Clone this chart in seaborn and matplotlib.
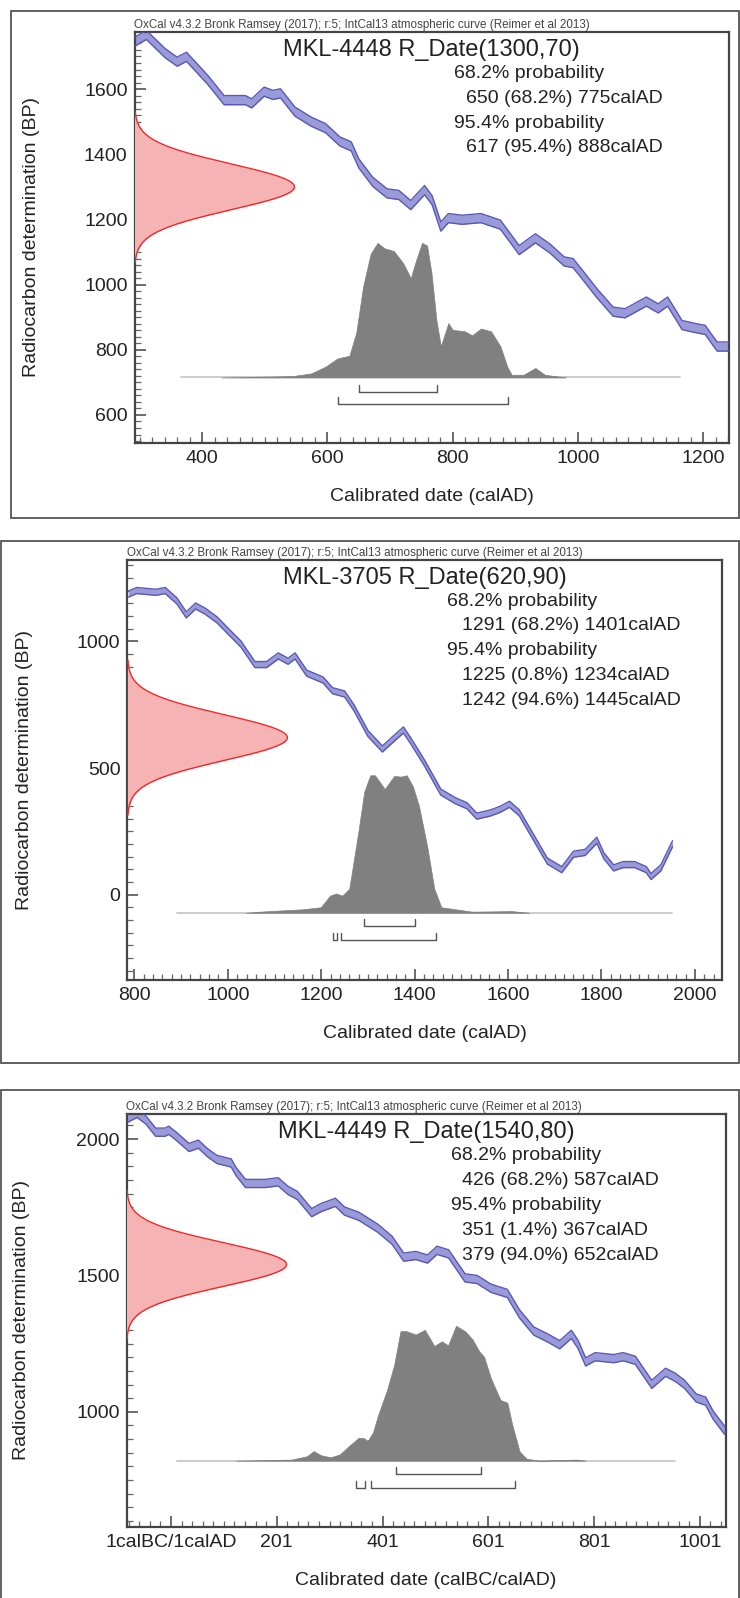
import numpy as np
import pandas as pd
import matplotlib
matplotlib.use("Agg")
import matplotlib.pyplot as plt
from matplotlib.patches import Rectangle
from matplotlib.ticker import MultipleLocator, FixedLocator
import seaborn as sns

# ---------------- data ----------------
header = "OxCal v4.3.2 Bronk Ramsey (2017); r:5; IntCal13 atmospheric curve (Reimer et al 2013)"

# Panel 1: MKL-4448
p1_title = "MKL-4448 R_Date(1300,70)"
p1_date = (1300, 70)
p1_lines = ["68.2% probability", "650 (68.2%) 775calAD", "95.4% probability", "617 (95.4%) 888calAD"]
p1_curve_x = [292, 311, 341, 360, 375, 409, 435, 469, 479, 499, 513, 525, 548, 574, 597, 620, 638, 650,
              672, 695, 714, 733, 755, 767, 781, 793, 815, 845, 876, 906, 932, 955, 978, 992, 1003, 1030,
              1056, 1075, 1109, 1128, 1143, 1166, 1189, 1203, 1222, 1241]
p1_curve_y = [1745, 1766, 1710, 1684, 1699, 1628, 1566, 1566, 1556, 1592, 1582, 1587, 1531, 1500, 1480, 1439,
              1424, 1372, 1316, 1280, 1275, 1244, 1290, 1259, 1178, 1204, 1199, 1204, 1184, 1106, 1142, 1111,
              1071, 1066, 1040, 974, 917, 912, 948, 927, 948, 876, 866, 861, 810, 810]
p1_post_x = [431, 544, 574, 597, 616, 635, 646, 657, 669, 680, 691, 706, 721, 733, 740, 751, 759, 766, 774,
             781, 793, 800, 819, 831, 845, 861, 876, 887, 894, 913, 932, 947, 981]
p1_post_h = [0, 0.01, 0.03, 0.08, 0.14, 0.16, 0.33, 0.67, 0.91, 0.99, 0.95, 0.93, 0.84, 0.73, 0.84, 0.99, 0.97,
             0.77, 0.42, 0.23, 0.40, 0.35, 0.34, 0.31, 0.36, 0.34, 0.23, 0.08, 0.02, 0.02, 0.07, 0.02, 0]
p1_range68 = [(650, 775)]
p1_range95 = [(617, 888)]
p1_xticks = [400, 600, 800, 1000, 1200]
p1_xticklabels = ["400", "600", "800", "1000", "1200"]
p1_yticks = [600, 800, 1000, 1200, 1400, 1600]
p1_xlabel = "Calibrated date (calAD)"

# Panel 2: MKL-3705
p2_title = "MKL-3705 R_Date(620,90)"
p2_date = (620, 90)
p2_lines = ["68.2% probability", "1291 (68.2%) 1401calAD", "95.4% probability",
            "1225 (0.8%) 1234calAD", "1242 (94.6%) 1445calAD"]
p2_curve_x = [787, 805, 846, 866, 891, 911, 931, 952, 977, 1002, 1028, 1058, 1083, 1108, 1129, 1144, 1169,
              1204, 1224, 1250, 1270, 1300, 1331, 1351, 1376, 1391, 1421, 1456, 1487, 1512, 1533, 1563, 1583,
              1603, 1624, 1654, 1684, 1715, 1740, 1765, 1790, 1805, 1826, 1846, 1871, 1896, 1906, 1927, 1952]
p2_curve_y = [1186, 1200, 1193, 1200, 1159, 1104, 1139, 1118, 1084, 1037, 989, 908, 908, 942, 921, 942, 874,
              847, 805, 792, 738, 636, 575, 609, 650, 609, 520, 405, 371, 351, 310, 323, 337, 357, 323, 228,
              133, 99, 160, 167, 215, 154, 106, 119, 119, 99, 72, 106, 201]
p2_post_x = [1038, 1078, 1159, 1199, 1219, 1232, 1245, 1260, 1280, 1292, 1305, 1315, 1336, 1356, 1371, 1383,
             1396, 1409, 1427, 1442, 1457, 1523, 1608, 1645]
p2_post_h = [0, 0.01, 0.025, 0.04, 0.125, 0.14, 0.125, 0.175, 0.6, 0.88, 1.0, 1.0, 0.9, 0.995, 0.99, 1.0,
             0.92, 0.78, 0.48, 0.175, 0.04, 0.008, 0.012, 0]
p2_range68 = [(1291, 1401)]
p2_range95 = [(1225, 1234), (1242, 1445)]
p2_xticks = [800, 1000, 1200, 1400, 1600, 1800, 2000]
p2_xticklabels = ["800", "1000", "1200", "1400", "1600", "1800", "2000"]
p2_yticks = [0, 500, 1000]
p2_xlabel = "Calibrated date (calAD)"

# Panel 3: MKL-4449
p3_title = "MKL-4449 R_Date(1540,80)"
p3_date = (1540, 80)
p3_lines = ["68.2% probability", "426 (68.2%) 587calAD", "95.4% probability",
            "351 (1.4%) 367calAD", "379 (94.0%) 652calAD"]
p3_curve_x = [-81, -63, -46, -28, -10, -3, 13, 35, 53, 70, 88, 115, 124, 142, 178, 204, 222, 240, 267, 285,
              312, 329, 356, 392, 419, 441, 464, 486, 504, 526, 557, 580, 606, 637, 660, 687, 713, 736, 758,
              771, 785, 803, 838, 856, 879, 910, 936, 954, 972, 994, 1012, 1026, 1048]
p3_curve_y = [2076, 2094, 2069, 2025, 2025, 2032, 2007, 1969, 1981, 1950, 1925, 1912, 1881, 1837, 1837, 1843,
              1812, 1793, 1730, 1749, 1768, 1736, 1717, 1673, 1629, 1567, 1573, 1560, 1592, 1579, 1491, 1485,
              1453, 1434, 1359, 1296, 1271, 1246, 1284, 1246, 1183, 1202, 1195, 1202, 1189, 1101, 1145, 1127,
              1101, 1051, 1039, 988, 932]
p3_post_x = [124, 229, 258, 271, 285, 303, 320, 338, 356, 365, 373, 383, 392, 410, 423, 435, 446, 464, 481,
             499, 513, 525, 540, 557, 571, 584, 593, 606, 624, 637, 646, 660, 673, 697, 767, 785]
p3_post_h = [0, 0.008, 0.033, 0.071, 0.04, 0.025, 0.046, 0.11, 0.17, 0.168, 0.148, 0.21, 0.33, 0.53, 0.71,
             0.96, 0.96, 0.935, 0.97, 0.85, 0.885, 0.855, 1.0, 0.96, 0.9, 0.81, 0.77, 0.61, 0.45, 0.43, 0.27,
             0.07, 0.015, 0, 0.008, 0]
p3_range68 = [(426, 587)]
p3_range95 = [(351, 367), (379, 652)]
p3_xticks = [1, 201, 401, 601, 801, 1001]
p3_xticklabels = ["1calBC/1calAD", "201", "401", "601", "801", "1001"]
p3_yticks = [1000, 1500, 2000]
p3_xlabel = "Calibrated date (calBC/calAD)"

ylabel = "Radiocarbon determination (BP)"

# ---------------- style ----------------
sns.set_style("white")
plt.rcParams["font.family"] = ["Liberation Sans", "DejaVu Sans"]

W, H = 740, 1598
fig = plt.figure(figsize=(W / 100, H / 100), dpi=100)

TXT = "#222222"
SPINE = "#444444"


def fx(px):
    return px / W


def fy(py):
    return 1 - py / H


panels = [
    dict(title=p1_title, date=p1_date, lines=p1_lines, cx=p1_curve_x, cy=p1_curve_y, sig=14,
         px=p1_post_x, ph=p1_post_h, r68=p1_range68, r95=p1_range95, xt=p1_xticks, xtl=p1_xticklabels,
         yt=p1_yticks, xlabel=p1_xlabel, xlim=(292, 1241), ylim=(514, 1776), xminor=20, yminor=20,
         box=(134.5, 31.7, 729, 443), frame=(10.5, 10.7, 738.5, 518), base=715, post_hpx=136,
         base_x=(367, 1162), l68=672, l95=634, txt_x=(454, 466), ylab_x=31, red_sd=3.3),
    dict(title=p2_title, date=p2_date, lines=p2_lines, cx=p2_curve_x, cy=p2_curve_y, sig=12,
         px=p2_post_x, ph=p2_post_h, r68=p2_range68, r95=p2_range95, xt=p2_xticks, xtl=p2_xticklabels,
         yt=p2_yticks, xlabel=p2_xlabel, xlim=(785, 2058), ylim=(-335, 1322), xminor=20, yminor=50,
         box=(127.4, 559.6, 722, 979.7), frame=(0.5, 540.7, 739, 1062.7), base=-71, post_hpx=137.5,
         base_x=(891, 1952), l68=-125, l95=-177, txt_x=(447.4, 461.5), ylab_x=23.6, red_sd=3.4),
    dict(title=p3_title, date=p3_date, lines=p3_lines, cx=p3_curve_x, cy=p3_curve_y, sig=15,
         px=p3_post_x, ph=p3_post_h, r68=p3_range68, r95=p3_range95, xt=p3_xticks, xtl=p3_xticklabels,
         yt=p3_yticks, xlabel=p3_xlabel, xlim=(-83, 1050), ylim=(579, 2092), xminor=20, yminor=50,
         box=(126.5, 1113.9, 725.8, 1526.7), frame=(0.5, 1090.2, 739, 1620), base=821, post_hpx=134.9,
         base_x=(13, 954), l68=772, l95=722, txt_x=(450.7, 462.5), ylab_x=21.2, red_sd=3.4),
]

for P in panels:
    l, t, r, b = P["box"]
    ax = fig.add_axes([fx(l), fy(b), (r - l) / W, (b - t) / H])
    ax.set_xlim(*P["xlim"])
    ax.set_ylim(*P["ylim"])
    ypp = (P["ylim"][1] - P["ylim"][0]) / (b - t)  # BP per pixel
    xpp = (P["xlim"][1] - P["xlim"][0]) / (r - l)

    # calibration curve band
    cx = np.array(P["cx"], float)
    cy = np.array(P["cy"], float)
    s = P["sig"]
    ax.fill_between(cx, cy - s, cy + s, color="#9a9ad9", lw=0, zorder=2)
    df_hi = pd.DataFrame({"x": cx, "y": cy + s})
    df_lo = pd.DataFrame({"x": cx, "y": cy - s})
    for dfl in (df_hi, df_lo):
        sns.lineplot(data=dfl, x="x", y="y", ax=ax, color="#5858b6", lw=1.0, estimator=None, zorder=3,
                     solid_joinstyle="round")

    # radiocarbon date (normal) on y axis
    mu, sd = P["date"]
    yy = np.linspace(mu - P["red_sd"] * sd, mu + P["red_sd"] * sd, 300)
    dens = np.exp(-0.5 * ((yy - mu) / sd) ** 2)
    peak = 160 * xpp
    x0 = P["xlim"][0]
    ax.fill_betweenx(yy, x0, x0 + peak * dens, color="#f6b3b3", lw=0, zorder=4)
    ax.plot(x0 + peak * dens, yy, color="#ee2a2a", lw=1.0, zorder=5)

    # posterior distribution
    base = P["base"]
    ax.plot(P["base_x"], [base, base], color="#c8c8c8", lw=1.3, zorder=4)
    px_ = np.array(P["px"], float)
    ph_ = np.array(P["ph"], float) * P["post_hpx"] * ypp
    ax.fill_between(px_, base, base + ph_, color="#808080", lw=0.5, ec="#808080", zorder=5)

    # ranges brackets
    th = 7 * ypp
    for lev, rngs in ((P["l68"], P["r68"]), (P["l95"], P["r95"])):
        for a, c in rngs:
            ax.plot([a, a, c, c], [lev + th, lev, lev, lev + th], color="#555555", lw=1.0, zorder=5)

    # axes styling
    for sp in ax.spines.values():
        sp.set_color(SPINE)
        sp.set_linewidth(1.6)
    ax.xaxis.set_major_locator(FixedLocator(P["xt"]))
    ax.set_xticklabels(P["xtl"])
    ax.yaxis.set_major_locator(FixedLocator(P["yt"]))
    ax.xaxis.set_minor_locator(MultipleLocator(P["xminor"]))
    ax.yaxis.set_minor_locator(MultipleLocator(P["yminor"]))
    if P["xt"][0] == 1:
        ax.xaxis.set_minor_locator(FixedLocator(np.arange(-79, 1050, 20)))
    ax.tick_params(axis="both", which="major", direction="in", length=8, width=1.1, color=SPINE,
                   labelsize=14, labelcolor=TXT, pad=5, bottom=True, left=True, top=False, right=False)
    ax.tick_params(axis="both", which="minor", direction="in", length=4, width=0.9, color="#666666",
                   bottom=True, left=True, top=False, right=False)
    ax.set_xlabel(P["xlabel"], fontsize=14, color=TXT)
    ax.set_ylabel(ylabel, fontsize=14, color=TXT)
    ax.xaxis.set_label_coords(0.5, -45 / (b - t))
    ax.yaxis.set_label_coords((P["ylab_x"] + 9 - l) / (r - l), 0.5)
    ax.grid(False)

    # texts
    fig.text(fx(l), fy(t - 6.5), header, fontsize=8.4, color="#444444", ha="left", va="center")
    fig.text(fx((l + r) / 2), fy(t + 18.5), P["title"], fontsize=17, color=TXT, ha="center", va="center")
    for i, line in enumerate(P["lines"]):
        xpos = P["txt_x"][0] if "probability" in line else P["txt_x"][1]
        fig.text(fx(xpos), fy(t + 41.5 + 24.9 * i), line, fontsize=14, color=TXT, ha="left", va="center")

    # outer frame
    x0f, y0f, x1f, y1f = P["frame"]
    fig.add_artist(Rectangle((fx(x0f), fy(y1f)), (x1f - x0f) / W, (y1f - y0f) / H,
                             transform=fig.transFigure, fill=False, ec="#555555", lw=1.3))

fig.savefig("out.png", dpi=100, facecolor="white")
